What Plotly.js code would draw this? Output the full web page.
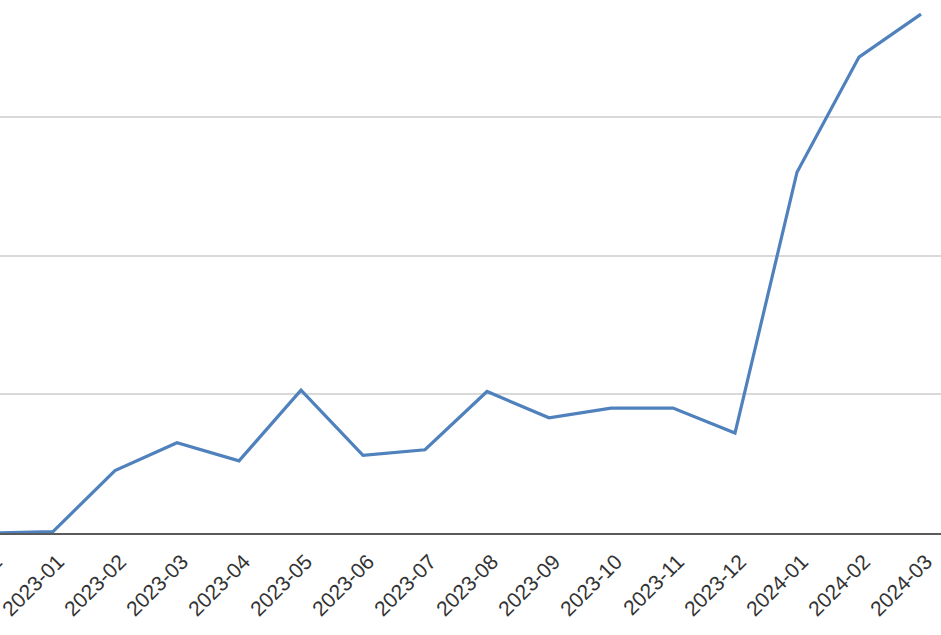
<!DOCTYPE html>
<html>
<head>
<meta charset="utf-8">
<script src="https://cdn.plot.ly/plotly-3.0.1.min.js"></script>
<style>
  html, body { margin: 0; padding: 0; width: 941px; height: 635px; overflow: hidden; background: #fff; }
  #chart { position: absolute; left: -100px; top: -60px; width: 1100px; height: 720px; }
</style>
</head>
<body>
<div id="chart"></div>
<script>
// Categories (months) and series values
const months = ["2022-12", "2023-01", "2023-02", "2023-03", "2023-04", "2023-05", "2023-06", "2023-07",
                "2023-08", "2023-09", "2023-10", "2023-11", "2023-12", "2024-01", "2024-02", "2024-03"];
const values = [0, 1, 45, 65, 52, 103, 56, 60, 102, 83, 90, 90, 72, 260, 343, 374];
const yTicks = [0, 100, 200, 300, 400];

const trace = {
  type: "scatter",
  mode: "lines",
  x: months,
  y: values,
  line: { color: "#4f81bd", width: 3.2 },
  hoverinfo: "x+y"
};

const layout = {
  width: 1100,
  height: 720,
  margin: { l: 60, r: 48, t: 38, b: 127 },
  paper_bgcolor: "#ffffff",
  plot_bgcolor: "#ffffff",
  showlegend: false,
  xaxis: {
    type: "category",
    range: [-0.5, months.length - 0.5],
    tickangle: -45,
    tickfont: { family: "Liberation Sans, Arial, sans-serif", size: 21, color: "#333333" },
    ticklabelshift: 5,
    ticklabelstandoff: 6,
    showgrid: false,
    showline: true,
    linecolor: "#5a5a5a",
    linewidth: 2,
    ticks: "",
    zeroline: false,
    fixedrange: true
  },
  yaxis: {
    range: [0, 400],
    tickvals: yTicks,
    showticklabels: false,
    showgrid: true,
    gridcolor: "#d9d9d9",
    gridwidth: 2,
    zeroline: false,
    showline: false,
    ticks: "",
    fixedrange: true
  }
};

Plotly.newPlot("chart", [trace], layout, { displayModeBar: false, staticPlot: true });
</script>
</body>
</html>
